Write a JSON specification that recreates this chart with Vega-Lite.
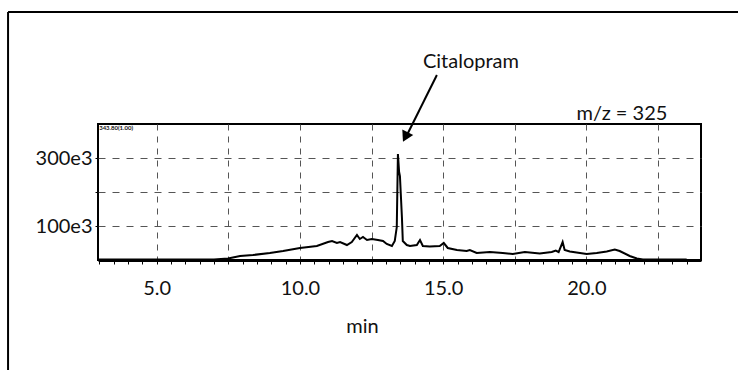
{
  "$schema": "https://vega.github.io/schema/vega-lite/v6.json",
  "width": 603,
  "height": 136,
  "autosize": {"type": "none"},
  "padding": {"left": 98, "top": 124, "right": 37, "bottom": 110},
  "background": "white",
  "config": {
    "font": "Lato",
    "view": {"stroke": "black", "strokeWidth": 2}
  },
  "datasets": {
    "trace": [
      {"t": 2.95, "v": 1500}, {"t": 5.0, "v": 1500}, {"t": 7.0, "v": 1500},
      {"t": 7.49, "v": 4400}, {"t": 7.91, "v": 11800}, {"t": 8.36, "v": 14700},
      {"t": 8.95, "v": 20600}, {"t": 9.41, "v": 26500}, {"t": 10.0, "v": 35300},
      {"t": 10.59, "v": 41200}, {"t": 10.98, "v": 52900}, {"t": 11.12, "v": 55900},
      {"t": 11.29, "v": 50000}, {"t": 11.4, "v": 52900}, {"t": 11.64, "v": 44100},
      {"t": 11.81, "v": 52900}, {"t": 11.99, "v": 73500}, {"t": 12.09, "v": 61800},
      {"t": 12.2, "v": 67600}, {"t": 12.34, "v": 58800}, {"t": 12.51, "v": 61800},
      {"t": 12.72, "v": 58800}, {"t": 12.9, "v": 55900}, {"t": 13.03, "v": 47100},
      {"t": 13.21, "v": 41200}, {"t": 13.31, "v": 55900}, {"t": 13.38, "v": 97000},
      {"t": 13.42, "v": 311800}, {"t": 13.46, "v": 260000}, {"t": 13.49, "v": 247000},
      {"t": 13.56, "v": 125000}, {"t": 13.59, "v": 55900}, {"t": 13.73, "v": 44100},
      {"t": 13.84, "v": 41200}, {"t": 14.08, "v": 44100}, {"t": 14.19, "v": 58800},
      {"t": 14.29, "v": 41200}, {"t": 14.53, "v": 39700}, {"t": 14.88, "v": 41200},
      {"t": 15.02, "v": 50000}, {"t": 15.16, "v": 35300}, {"t": 15.48, "v": 29400},
      {"t": 15.82, "v": 26500}, {"t": 15.93, "v": 29400}, {"t": 16.17, "v": 20600},
      {"t": 16.63, "v": 23500}, {"t": 17.08, "v": 20600}, {"t": 17.43, "v": 17600},
      {"t": 17.85, "v": 23500}, {"t": 18.37, "v": 19100}, {"t": 18.79, "v": 23500},
      {"t": 18.93, "v": 27900}, {"t": 19.03, "v": 23500}, {"t": 19.17, "v": 52900},
      {"t": 19.24, "v": 29400}, {"t": 19.42, "v": 25000}, {"t": 20.01, "v": 17600},
      {"t": 20.36, "v": 20600}, {"t": 20.71, "v": 25000}, {"t": 20.99, "v": 30900},
      {"t": 21.16, "v": 26500}, {"t": 21.51, "v": 11800}, {"t": 21.76, "v": 4400},
      {"t": 21.97, "v": 1500}, {"t": 23.5, "v": 1500}
    ],
    "frame": [
      {"t": -0.19, "t2": -0.19, "v": 729400, "v2": -400000},
      {"t": -0.19, "t2": 27, "v": 729400, "v2": 729400}
    ],
    "arrow": [
      {"t": 14.78, "t2": 13.75, "v": 544100, "v2": 370000}
    ],
    "head": [
      {"t": 13.68, "v": 362000}
    ],
    "labels": [
      {"t": 15.97, "v": 582400, "label": "Citalopram"},
      {"t": 21.24, "v": 429400, "label": "m/z = 325"}
    ],
    "corner": [
      {"t": 2.99, "v": 398000, "label": "343.80(1.00)"}
    ]
  },
  "resolve": {"axis": {"x": "independent"}},
  "layer": [
    {
      "data": {"name": "trace"},
      "mark": {"type": "line", "color": "black", "strokeWidth": 2},
      "encoding": {
        "x": {
          "field": "t", "type": "quantitative",
          "scale": {"domain": [2.95, 24], "nice": false, "zero": false},
          "axis": {
            "orient": "bottom",
            "title": "min",
            "titleFontSize": 20, "titleFontWeight": "normal", "titleColor": "#111",
            "titleX": 264, "titleY": 72, "titleAlign": "center", "titleBaseline": "alphabetic",
            "values": [5, 7.5, 10, 12.5, 15, 17.5, 20, 22.5],
            "labelExpr": "datum.value % 5 === 0 ? format(datum.value, '.1f') : ''",
            "labelFontSize": 20, "labelColor": "#111", "labelPadding": 18,
            "labelFlush": false, "labelOverlap": false, "labelBound": false,
            "ticks": false,
            "domainColor": "black", "domainWidth": 3,
            "grid": true, "gridColor": "#555", "gridWidth": 1, "gridDash": [6, 6]
          }
        },
        "y": {
          "field": "v", "type": "quantitative",
          "scale": {"domain": [0, 400000], "nice": false},
          "axis": {
            "title": null,
            "values": [100000, 200000, 300000],
            "labelExpr": "datum.value === 100000 ? '100e3' : datum.value === 300000 ? '300e3' : ''",
            "labelFontSize": 20, "labelColor": "#111", "labelPadding": 3,
            "tickSize": 3, "tickColor": "black",
            "domain": false,
            "grid": true, "gridColor": "#555", "gridWidth": 1, "gridDash": [7, 7]
          }
        }
      }
    },
    {
      "data": {"name": "frame"},
      "mark": {"type": "rule", "color": "black", "strokeWidth": 2, "clip": false},
      "encoding": {
        "x": {
          "field": "t", "type": "quantitative",
          "axis": {
            "orient": "bottom", "title": null, "labels": false, "domain": false, "grid": false,
            "values": [3, 3.5, 4, 4.5, 5, 5.5, 6, 6.5, 7, 7.5, 8, 8.5, 9, 9.5, 10, 10.5, 11, 11.5, 12, 12.5, 13, 13.5, 14, 14.5, 15, 15.5, 16, 16.5, 17, 17.5, 18, 18.5, 19, 19.5, 20, 20.5, 21, 21.5, 22, 22.5, 23, 23.5],
            "tickSize": 4, "tickColor": "black", "tickWidth": 1
          }
        },
        "x2": {"field": "t2"},
        "y": {"field": "v", "type": "quantitative"},
        "y2": {"field": "v2"}
      }
    },
    {
      "data": {"name": "arrow"},
      "mark": {"type": "rule", "color": "black", "strokeWidth": 2},
      "encoding": {
        "x": {"field": "t", "type": "quantitative", "axis": null},
        "x2": {"field": "t2"},
        "y": {"field": "v", "type": "quantitative"},
        "y2": {"field": "v2"}
      }
    },
    {
      "data": {"name": "head"},
      "mark": {"type": "point", "shape": "triangle-down", "filled": true, "color": "black", "size": 150, "angle": 26.6, "opacity": 1},
      "encoding": {
        "x": {"field": "t", "type": "quantitative", "axis": null},
        "y": {"field": "v", "type": "quantitative"}
      }
    },
    {
      "data": {"name": "labels"},
      "mark": {"type": "text", "fontSize": 20, "color": "#111", "align": "center", "baseline": "middle"},
      "encoding": {
        "x": {"field": "t", "type": "quantitative", "axis": null},
        "y": {"field": "v", "type": "quantitative"},
        "text": {"field": "label"}
      }
    },
    {
      "data": {"name": "corner"},
      "mark": {"type": "text", "fontSize": 6, "fontWeight": "bold", "color": "#111", "align": "left", "baseline": "top"},
      "encoding": {
        "x": {"field": "t", "type": "quantitative", "axis": null},
        "y": {"field": "v", "type": "quantitative"},
        "text": {"field": "label"}
      }
    }
  ]
}
